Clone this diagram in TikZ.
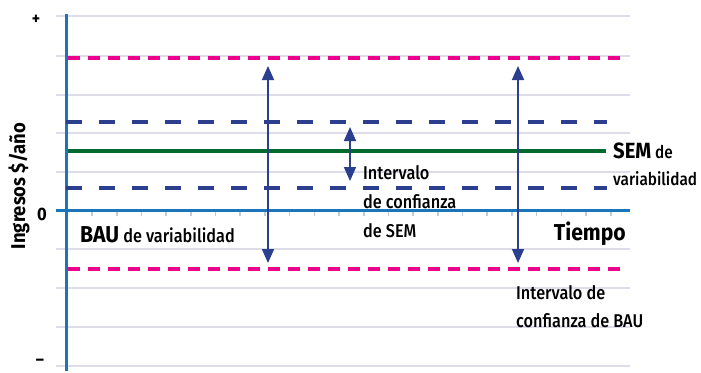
\documentclass[tikz,border=0pt]{standalone}
\usepackage{fontspec}
\setmainfont[FakeStretch=0.88]{Fira Sans Medium}
\newfontfamily\boldf[FakeStretch=0.92]{Fira Sans Bold}
\usetikzlibrary{arrows.meta}
\definecolor{gridc}{HTML}{DDDDE9}
\definecolor{axisc}{HTML}{1A75BB}
\definecolor{pinkc}{HTML}{EC008C}
\definecolor{navyc}{HTML}{2B3F8E}
\definecolor{greenc}{HTML}{006A2F}
\definecolor{tickc}{HTML}{BFCBDD}
\tikzset{
  gridline/.style={draw=gridc, line width=2.6pt},
  axisline/.style={draw=axisc, line width=3pt},
  tickline/.style={draw=tickc, line width=1.6pt},
  pinkdash/.style={draw=pinkc, line width=3.8pt, dash pattern=on 12pt off 8pt},
  navydash/.style={draw=navyc, line width=3.2pt, dash pattern=on 16pt off 17pt},
  greenline/.style={draw=greenc, line width=3.8pt},
  interval/.style={draw=navyc, line width=1.7pt, {Triangle[length=14pt,width=12pt]}-{Triangle[length=14pt,width=12pt]}},
  small/.style={font=\fontsize{18.5}{29}\selectfont, inner sep=0pt, align=left},
  big/.style={font=\boldf\fontsize{23}{27}\selectfont, inner sep=0pt},
}
\begin{document}
\begin{tikzpicture}[x=1pt, y=-1pt]
\useasboundingbox (0,0) rectangle (701,372);
% grid
\foreach \yy in {16,56,95,133,172,249,288,327,366}
  \draw[gridline] (56,\yy) -- (630,\yy);
% ticks
\foreach \k in {0,...,21}
  \draw[tickline] ({92+24.7*\k},211) -- ({92+24.7*\k},216);
% axes
\coordinate (ytop) at (66,14);
\coordinate (ybot) at (66,371);
\coordinate (xl) at (56,210);
\coordinate (xr) at (630,210);
\draw[axisline] (ytop) -- (ybot);
\draw[axisline] (xl) -- (xr);
% level lines
\coordinate (p1l) at (68,58);  \coordinate (p1r) at (624,58);
\coordinate (p2l) at (68,269); \coordinate (p2r) at (624,269);
\coordinate (b1l) at (66,122); \coordinate (b1r) at (607,122);
\coordinate (b2l) at (66,188); \coordinate (b2r) at (607,188);
\coordinate (gl) at (68,151);  \coordinate (gr) at (606,151);
\draw[pinkdash] (p1l) -- (p1r);
\draw[pinkdash] (p2l) -- (p2r);
\draw[navydash] (b1l) -- (b1r);
\draw[navydash] (b2l) -- (b2r);
\draw[greenline] (gl) -- (gr);
% interval arrows
\coordinate (a1t) at (268,66); \coordinate (a1b) at (268,263);
\coordinate (a2t) at (518,66); \coordinate (a2b) at (518,263);
\coordinate (a3t) at (350,127); \coordinate (a3b) at (350,181);
\draw[interval] (a1t) -- (a1b);
\draw[interval] (a2t) -- (a2b);
\draw[interval] (a3t) -- (a3b);
% labels
\node[font=\boldf\fontsize{17}{17}\selectfont, inner sep=0pt] (plus) at (36,20) {+};
\node[font=\boldf\fontsize{17}{17}\selectfont, inner sep=0pt] (minus) at (40,362) {–};
\node[font=\boldf\fontsize{18}{18}\selectfont, inner sep=0pt] (zero) at (42,214) {0};
\node[font=\boldf\fontsize{20}{24}\selectfont, inner sep=0pt, rotate=90, anchor=base] (ylab) at (25,186) {Ingresos \$/año};
\node[small, anchor=base west] (bau) at (80,242) {{\boldf\fontsize{23}{27}\selectfont BAU} de variabilidad};
\node[big, anchor=base east] (tiempo) at (626,240) {Tiempo};
\node[small, anchor=base west] (semint) at (363,237) {Intervalo\\de confianza\\de SEM};
\node[small, font=\fontsize{17.5}{27}\selectfont, anchor=base west] (semvar) at (613,185) {{\boldf\fontsize{22}{27}\selectfont SEM} de\\variabilidad};
\node[small, font=\fontsize{18.5}{28}\selectfont, anchor=base west] (bauint) at (516,327) {Intervalo de\\confianza de BAU};
\end{tikzpicture}
\end{document}
